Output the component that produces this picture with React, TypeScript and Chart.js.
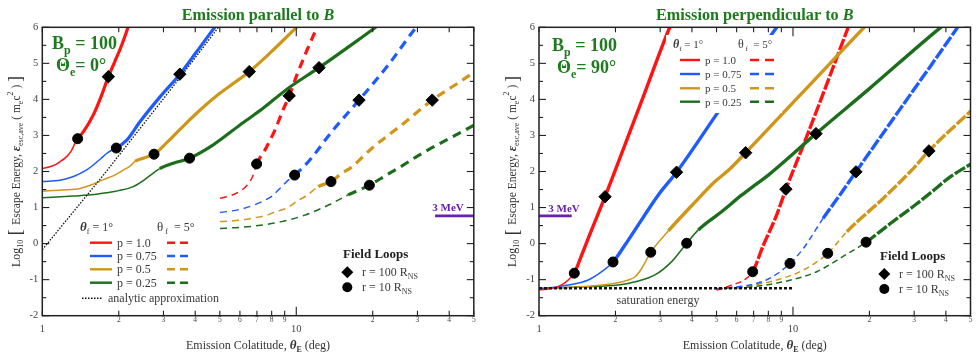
import React, { useEffect, useRef } from 'react';
import { Chart, registerables } from 'chart.js';

Chart.register(...registerables);

type P = [number, number];

// ---------- Left panel: emission parallel to B (Theta_e = 0 deg) ----------
const L_RED_1: P[] = [[1, 2.08], [1.1, 2.16], [1.174, 2.27], [1.25, 2.42], [1.3, 2.57], [1.345, 2.78], [1.378, 2.91], [1.45, 3.1], [1.588, 3.57], [1.713, 4.12], [1.82, 4.63], [1.93, 5.05], [2.055, 5.51], [2.18, 6.02], [2.2, 6.1]];
const L_BLUE_1: P[] = [[1, 1.72], [1.174, 1.76], [1.3, 1.84], [1.386, 1.92], [1.5, 2.05], [1.588, 2.18], [1.7, 2.36], [1.793, 2.5], [1.876, 2.59], [1.956, 2.65], [2.15, 2.87], [2.424, 3.38], [2.907, 4.07], [3.48, 4.7], [4.05, 5.32], [4.8, 6.02], [4.9, 6.1]];
const L_GOLD_1: P[] = [[1, 1.46], [1.2, 1.49], [1.407, 1.53], [1.588, 1.65], [1.75, 1.78], [1.93, 1.9], [2.1, 2.05], [2.215, 2.15], [2.317, 2.28], [2.498, 2.37], [2.754, 2.48], [3.09, 2.8], [3.5, 3.18], [4.0, 3.58], [4.86, 4.1], [5.7, 4.46], [6.53, 4.77], [8.0, 5.33], [10.1, 6.02], [10.4, 6.1]];
const L_GREEN_1: P[] = [[1, 1.27], [1.325, 1.32], [1.6, 1.36], [1.793, 1.41], [2.0, 1.47], [2.28, 1.58], [2.5, 1.75], [2.75, 1.97], [2.9, 2.08], [3.28, 2.23], [3.8, 2.37], [4.71, 2.74], [6.0, 3.29], [7.2, 3.69], [9.3, 4.31], [12.29, 4.88], [16, 5.45], [20.7, 6.02], [21.2, 6.08]];
const L_RED_5: P[] = [[5.01, 1.26], [5.5, 1.33], [6.0, 1.45], [6.4, 1.62], [6.75, 1.88], [6.98, 2.21], [7.53, 2.6], [8.24, 3.15], [8.86, 3.7], [9.38, 4.1], [10.06, 4.68], [11.0, 5.35], [12.1, 6.02], [12.3, 6.14]];
const L_BLUE_5: P[] = [[5.01, 0.86], [6.0, 0.95], [6.88, 1.08], [7.5, 1.2], [8.0, 1.31], [8.62, 1.53], [9.3, 1.76], [9.85, 1.9], [11.15, 2.27], [13.78, 3.1], [17.66, 3.98], [23.0, 4.95], [29.8, 6.02], [30.5, 6.1]];
const L_GOLD_5: P[] = [[5.01, 0.61], [6.0, 0.65], [6.88, 0.72], [7.67, 0.79], [8.24, 0.88], [9.15, 0.98], [10.18, 1.2], [11.0, 1.33], [12.2, 1.58], [13.7, 1.72], [15.09, 1.95], [16.5, 2.12], [19.8, 2.64], [26.0, 3.29], [34.3, 3.98], [42.2, 4.4], [50.5, 4.77]];
const L_GREEN_5: P[] = [[5.01, 0.42], [6.0, 0.45], [6.88, 0.49], [8.76, 0.61], [10.8, 0.79], [13.4, 1.07], [16.0, 1.35], [19.4, 1.62], [22.4, 1.88], [26.0, 2.15], [31.2, 2.5], [42.2, 3.0], [50.5, 3.3]];
const L_ANALYTIC: P[] = [[1, -0.17], [1.74, 1.9], [3.5, 4.62], [5.0, 6.05]];
const L_MEV: P[] = [[35.2, 0.769], [50, 0.769]];
const L_CIRCLES: P[] = [[1.378, 2.91], [1.956, 2.65], [2.754, 2.48], [3.8, 2.37], [6.98, 2.21], [9.85, 1.9], [13.7, 1.72], [19.4, 1.62]];
const L_DIAMONDS: P[] = [[1.82, 4.63], [3.48, 4.7], [6.53, 4.77], [12.29, 4.88], [9.38, 4.1], [17.66, 3.98], [34.3, 3.98]];

// ---------- Right panel: emission perpendicular to B (Theta_e = 90 deg) ----------
const R_RED_1: P[] = [[1, -1.28], [1.1, -1.25], [1.2, -1.18], [1.266, -1.08], [1.325, -0.96], [1.377, -0.82], [1.472, -0.32], [1.588, 0.27], [1.712, 0.84], [1.82, 1.3], [1.963, 1.9], [2.537, 3.96], [3.28, 6.02], [3.33, 6.12]];
const R_BLUE_1: P[] = [[1, -1.25], [1.15, -1.21], [1.304, -1.15], [1.563, -1.01], [1.766, -0.78], [1.956, -0.51], [2.18, -0.04], [2.46, 0.52], [2.95, 1.35], [3.48, 1.98], [4.96, 3.55], [8.12, 5.74], [8.9, 6.13]];
const R_GOLD_1: P[] = [[1, -1.25], [1.5, -1.19], [2.0, -1.1], [2.246, -1.01], [2.39, -0.92], [2.537, -0.69], [2.754, -0.24], [3.23, 0.35], [3.99, 1.05], [4.93, 1.72], [5.64, 2.07], [6.51, 2.52], [10, 3.91], [14, 5.0], [19.2, 6.02], [19.7, 6.1]];
const R_GREEN_1: P[] = [[1, -1.25], [1.5, -1.2], [2.05, -1.15], [2.39, -1.06], [2.86, -0.87], [3.33, -0.5], [3.815, 0.01], [4.24, 0.38], [5.25, 0.89], [6.29, 1.35], [7.1, 1.63], [8.0, 1.9], [12.32, 3.05], [20, 4.3], [38.5, 6.02], [39.5, 6.08]];
const R_RED_5: P[] = [[5.0, -1.29], [5.4, -1.22], [5.74, -1.15], [6.2, -1.07], [6.48, -0.99], [6.94, -0.78], [7.64, -0.05], [8.62, 0.79], [9.38, 1.51], [11.0, 2.74], [13, 4.07], [15.1, 5.28], [16.6, 6.05]];
const R_BLUE_5: P[] = [[5.0, -1.25], [6.0, -1.2], [6.77, -1.15], [8.12, -0.96], [9.73, -0.55], [11.0, -0.13], [13.14, 0.7], [15.3, 1.35], [17.7, 1.99], [26.4, 3.73], [35, 4.95], [44.7, 6.02], [45.5, 6.1]];
const R_GOLD_5: P[] = [[5.0, -1.25], [6.0, -1.21], [6.77, -1.17], [8.62, -1.01], [11.0, -0.73], [13.7, -0.27], [16.3, 0.33], [22.7, 1.26], [30.2, 2.13], [34.3, 2.57], [50.5, 3.7]];
const R_GREEN_5: P[] = [[5.0, -1.25], [6.77, -1.2], [9.16, -1.06], [12.4, -0.78], [15.8, -0.35], [19.4, 0.04], [24.1, 0.55], [30, 1.05], [34.7, 1.4], [41.6, 1.85], [50.5, 2.22]];
const R_SATURATION: P[] = [[1, -1.24], [10, -1.24]];
const R_MEV: P[] = [[1, 0.769], [1.345, 0.769]];
const R_CIRCLES: P[] = [[1.377, -0.82], [1.956, -0.51], [2.754, -0.24], [3.815, 0.01], [6.94, -0.78], [9.73, -0.55], [13.7, -0.27], [19.4, 0.04]];
const R_DIAMONDS: P[] = [[1.82, 1.3], [3.48, 1.98], [6.51, 2.52], [12.32, 3.05], [9.38, 1.51], [17.7, 1.99], [34.3, 2.57]];

// ---------- Axes ----------
const X_TICKS = [1, 2, 3, 4, 5, 6, 7, 8, 9, 10, 20, 30, 40, 50];
const X_TICK_LABELS = ['1', '2', '3', '4', '5', '6', '7', '8', '9', '10', '2', '3', '4', '5'];
const Y_TICKS = [-2, -1, 0, 1, 2, 3, 4, 5, 6];
const P_LABELS = ['p = 1.0', 'p = 0.75', 'p = 0.5', 'p = 0.25'];

const SERIF = '"Liberation Serif", "DejaVu Serif", serif';
const fnt = (px: number, st = '') => `${st} ${px}px ${SERIF}`.trim();

const RED = '#ff1414';
const BLUE = '#1e5cff';
const GOLD = '#d0961a';
const GREEN = '#1c6e1c';
const COLORS = [RED, BLUE, GOLD, GREEN];
const TITLE_GREEN = '#1d7a1d';
const PURPLE = '#6a1fb0';
const TEXT = '#3a3a3a';

type Run = { t: string; f: string; dy?: number };

function drawRuns(ctx: CanvasRenderingContext2D, runs: Run[], x: number, y: number, align: 'left' | 'center' = 'left') {
  let w = 0;
  runs.forEach((r) => { ctx.font = r.f; w += ctx.measureText(r.t).width; });
  let cx = align === 'center' ? x - w / 2 : x;
  ctx.textAlign = 'left';
  ctx.textBaseline = 'alphabetic';
  runs.forEach((r) => {
    ctx.font = r.f;
    ctx.fillText(r.t, cx, y + (r.dy || 0));
    cx += ctx.measureText(r.t).width;
  });
}

interface Panel {
  pad: { left: number; right: number; top: number; bottom: number };
  solid: P[][];
  solidThick: number[];
  dashed: P[][];
  dashedThick: number[];
  thickW: number;
  thickDash: number[];
  thinDash: number[];
  analytic?: P[];
  saturation?: P[];
  mev: P[];
  circles: P[];
  diamonds: P[];
  title: string;
  thetaE: string;
  bx: number; by: number; tx: number; ty: number;
  legend: { fs: number; h1x: number; h2x: number; hy: number; rows: number[]; s1: number; s2: number; tx: number; d1: number; d2: number; dash: number[]; box?: number[]; analyticY?: number };
  loops: { x: number; y: number };
  mevLabel: { x: number; y: number };
  ylabelX: number;
}

const LEFT: Panel = {
  pad: { left: 42.3, right: 16.2, top: 27.3, bottom: 40.3 },
  solid: [L_RED_1, L_BLUE_1, L_GOLD_1, L_GREEN_1],
  solidThick: [1.378, 1.876, 2.317, 2.9],
  dashed: [L_RED_5, L_BLUE_5, L_GOLD_5, L_GREEN_5],
  dashedThick: [6.98, 9.85, 12.2, 16.0],
  thickW: 3.2,
  thickDash: [9, 6],
  thinDash: [7, 5],
  analytic: L_ANALYTIC,
  mev: L_MEV,
  circles: L_CIRCLES,
  diamonds: L_DIAMONDS,
  title: 'Emission parallel to ',
  thetaE: '= 0°',
  bx: 52, by: 49, tx: 56, ty: 71,
  legend: { fs: 12, h1x: 80, h2x: 157, hy: 227, rows: [242.7, 256, 269.3, 282.7], s1: 90, s2: 112, tx: 117, d1: 167, d2: 188, dash: [8, 5], analyticY: 298.3 },
  loops: { x: 343, y: 254 },
  mevLabel: { x: 448, y: 207 },
  ylabelX: 15,
};

const RIGHT: Panel = {
  pad: { left: 49, right: 9.5, top: 27.3, bottom: 40.3 },
  solid: [R_RED_1, R_BLUE_1, R_GOLD_1, R_GREEN_1],
  solidThick: [1.377, 1.956, 3.23, 4.24],
  dashed: [R_RED_5, R_BLUE_5, R_GOLD_5, R_GREEN_5],
  dashedThick: [6.94, 13.14, 16.3, 19.4],
  thickW: 3.4,
  thickDash: [12, 2],
  thinDash: [6, 4],
  saturation: R_SATURATION,
  mev: R_MEV,
  circles: R_CIRCLES,
  diamonds: R_DIAMONDS,
  title: 'Emission perpendicular to ',
  thetaE: '= 90°',
  bx: 62, by: 51, tx: 67, ty: 73,
  legend: { fs: 11, h1x: 183, h2x: 248, hy: 44, rows: [60, 74, 88.3, 101.7], s1: 190, s2: 210, tx: 215, d1: 260, d2: 285, dash: [9, 6], box: [176, 35, 292, 113] },
  loops: { x: 390, y: 255.7 },
  mevLabel: { x: 74, y: 207.7 },
  ylabelX: 21.7,
};

const toXY = (pts: P[]) => pts.map(([x, y]) => ({ x, y }));

function curveDataset(pts: P[], color: string, dashed: boolean, thickFrom: number, cfg: Panel) {
  const thinW = 1.5;
  const isThick = (c: any) => c.p0.parsed.x >= thickFrom - 1e-9;
  return {
    data: toXY(pts),
    borderColor: color,
    backgroundColor: color,
    borderWidth: thinW,
    borderDash: dashed ? cfg.thinDash : [],
    pointRadius: 0,
    pointHoverRadius: 0,
    cubicInterpolationMode: 'monotone',
    fill: false,
    clip: 0,
    order: 2,
    segment: {
      borderWidth: (c: any) => (isThick(c) ? cfg.thickW : thinW),
      borderDash: (c: any) => (dashed ? (isThick(c) ? cfg.thickDash : cfg.thinDash) : []),
    },
  };
}

function decor(cfg: Panel) {
  return {
    id: 'decor',
    afterDatasetsDraw(chart: any) {
      const ctx: CanvasRenderingContext2D = chart.ctx;
      const a = chart.chartArea;
      const xs = chart.scales.x;
      const ys = chart.scales.y;
      const seg = (x1: number, y1: number, x2: number, y2: number) => {
        ctx.beginPath(); ctx.moveTo(x1, y1); ctx.lineTo(x2, y2); ctx.stroke();
      };
      ctx.save();
      const L = cfg.legend;
      if (L.box) {
        ctx.fillStyle = '#ffffff';
        ctx.fillRect(L.box[0], L.box[1], L.box[2] - L.box[0], L.box[3] - L.box[1]);
      }
      ctx.fillStyle = TEXT;
      drawRuns(ctx, [{ t: 'θ', f: fnt(L.fs + 1, 'italic bold') }, { t: 'f', f: fnt(L.fs - 4), dy: 3 }, { t: ' = 1°', f: fnt(L.fs) }], L.h1x, L.hy + 4);
      drawRuns(ctx, [{ t: 'θ', f: fnt(L.fs + 1) }, { t: ' f', f: fnt(L.fs - 4), dy: 3 }, { t: '  = 5°', f: fnt(L.fs) }], L.h2x, L.hy + 4);
      L.rows.forEach((ry, i) => {
        ctx.strokeStyle = COLORS[i];
        ctx.lineWidth = 2.4;
        ctx.setLineDash([]);
        seg(L.s1, ry, L.s2, ry);
        ctx.setLineDash(L.dash);
        seg(L.d1, ry, L.d2, ry);
        ctx.setLineDash([]);
        ctx.fillStyle = TEXT;
        drawRuns(ctx, [{ t: P_LABELS[i], f: fnt(L.fs) }], L.tx, ry + 4);
      });
      if (L.analyticY) {
        ctx.strokeStyle = '#111';
        ctx.lineWidth = 1.5;
        ctx.setLineDash([1.5, 1.5]);
        seg(82, L.analyticY, 103, L.analyticY);
        ctx.setLineDash([]);
        drawRuns(ctx, [{ t: 'analytic approximation', f: fnt(12) }], 108, L.analyticY + 4);
      }

      // Field loops legend
      const FL = cfg.loops;
      ctx.fillStyle = '#222';
      drawRuns(ctx, [{ t: 'Field Loops', f: fnt(13, 'bold') }], FL.x, FL.y + 4);
      ctx.fillStyle = '#000';
      const dx = FL.x + 4.3, dy = FL.y + 18.3;
      ctx.beginPath(); ctx.moveTo(dx, dy - 6); ctx.lineTo(dx + 6, dy); ctx.lineTo(dx, dy + 6); ctx.lineTo(dx - 6, dy); ctx.closePath(); ctx.fill();
      ctx.beginPath(); ctx.arc(dx, dy + 15, 5, 0, Math.PI * 2); ctx.fill();
      ctx.fillStyle = TEXT;
      drawRuns(ctx, [{ t: 'r = 100 R', f: fnt(12) }, { t: 'NS', f: fnt(8), dy: 3 }], FL.x + 19, dy + 4);
      drawRuns(ctx, [{ t: 'r = 10 R', f: fnt(12) }, { t: 'NS', f: fnt(8), dy: 3 }], FL.x + 19, dy + 19);

      // 3 MeV label
      ctx.fillStyle = PURPLE;
      drawRuns(ctx, [{ t: '3 MeV', f: fnt(11, 'bold') }], cfg.mevLabel.x, cfg.mevLabel.y + 4, 'center');

      if (cfg.saturation) {
        ctx.fillStyle = TEXT;
        drawRuns(ctx, [{ t: 'saturation energy', f: fnt(12) }], 168, 304, 'center');
      }

      // B_p and Theta_e
      ctx.fillStyle = TITLE_GREEN;
      drawRuns(ctx, [{ t: 'B', f: fnt(18, 'bold') }, { t: 'p', f: fnt(12, 'bold'), dy: 5 }, { t: ' = 100', f: fnt(18, 'bold') }], cfg.bx, cfg.by);
      drawRuns(ctx, [{ t: 'Θ', f: fnt(18, 'bold') }, { t: 'e', f: fnt(12, 'bold'), dy: 5 }, { t: cfg.thetaE, f: fnt(18, 'bold') }], cfg.tx, cfg.ty);

      // Title
      const cx = (a.left + a.right) / 2;
      drawRuns(ctx, [{ t: cfg.title, f: fnt(16.2, 'bold') }, { t: 'B', f: fnt(16.2, 'italic bold') }], cx, 20, 'center');

      // Frame
      ctx.strokeStyle = '#222';
      ctx.lineWidth = 1.5;
      ctx.strokeRect(a.left, a.top, a.right - a.left, a.bottom - a.top);

      // Ticks
      ctx.lineWidth = 1.1;
      for (let v = -2; v <= 6; v += 0.5) {
        const y = ys.getPixelForValue(v);
        const len = Number.isInteger(v) ? 7 : 4;
        seg(a.left, y, a.left + len, y);
        seg(a.right, y, a.right - len, y);
      }
      X_TICKS.forEach((v) => {
        const x = xs.getPixelForValue(v);
        const len = v === 10 ? 9 : 5;
        seg(x, a.bottom, x, a.bottom - len);
        seg(x, a.top, x, a.top + len);
      });

      // Tick labels
      ctx.fillStyle = '#444';
      ctx.textBaseline = 'middle';
      ctx.textAlign = 'right';
      ctx.font = fnt(10.5);
      Y_TICKS.forEach((v) => ctx.fillText(String(v), a.left - 4, ys.getPixelForValue(v)));
      ctx.textAlign = 'center';
      X_TICKS.forEach((v, i) => {
        const x = xs.getPixelForValue(v);
        const major = v === 1 || v === 10;
        ctx.font = major ? fnt(10.5) : fnt(7.5);
        ctx.fillText(X_TICK_LABELS[i], x, major ? a.bottom + 13.5 : a.bottom + 4.8);
      });

      // Axis labels
      ctx.fillStyle = '#333';
      drawRuns(ctx, [
        { t: 'Emission Colatitude, ', f: fnt(12) },
        { t: 'θ', f: fnt(13, 'italic bold') },
        { t: 'E', f: fnt(8, 'bold'), dy: 3 },
        { t: ' (deg)', f: fnt(12) },
      ], cx, 349, 'center');

      ctx.save();
      ctx.translate(cfg.ylabelX, (a.top + a.bottom) / 2);
      ctx.rotate(-Math.PI / 2);
      drawRuns(ctx, [
        { t: 'Log', f: fnt(12) },
        { t: '10', f: fnt(8), dy: 3 },
        { t: ' [ ', f: fnt(18), dy: 1.5 },
        { t: 'Escape Energy, ', f: fnt(11.5) },
        { t: 'ε', f: fnt(13, 'italic bold') },
        { t: 'esc,ave', f: fnt(8), dy: 3 },
        { t: ' ( m', f: fnt(11.5) },
        { t: 'e', f: fnt(8), dy: 3 },
        { t: 'c', f: fnt(11.5) },
        { t: '2', f: fnt(8), dy: -7 },
        { t: ' ) ', f: fnt(11.5) },
        { t: ']', f: fnt(18), dy: 1.5 },
      ], 0, 4.5, 'center');
      ctx.restore();

      ctx.restore();
    },
  };
}

function makeChart(canvas: HTMLCanvasElement, cfg: Panel) {
  const datasets: any[] = [];
  datasets.push({
    data: toXY(cfg.diamonds), showLine: false, pointStyle: 'rectRot', pointRadius: 6.2,
    pointBackgroundColor: '#000', pointBorderColor: '#000', pointBorderWidth: 1, order: 0, clip: false,
  });
  datasets.push({
    data: toXY(cfg.circles), showLine: false, pointStyle: 'circle', pointRadius: 5,
    pointBackgroundColor: '#000', pointBorderColor: '#000', pointBorderWidth: 1, order: 0, clip: false,
  });
  cfg.solid.forEach((pts, i) => datasets.push(curveDataset(pts, COLORS[i], false, cfg.solidThick[i], cfg)));
  cfg.dashed.forEach((pts, i) => datasets.push(curveDataset(pts, COLORS[i], true, cfg.dashedThick[i], cfg)));
  if (cfg.analytic) {
    datasets.push({ data: toXY(cfg.analytic), borderColor: '#111', borderWidth: 1.3, borderDash: [1.5, 1.5], pointRadius: 0, tension: 0, clip: 0, order: 1 });
  }
  if (cfg.saturation) {
    datasets.push({ data: toXY(cfg.saturation), borderColor: '#111', borderWidth: 2.6, borderDash: [3, 2], pointRadius: 0, tension: 0, clip: 0, order: 1 });
  }
  datasets.push({ data: toXY(cfg.mev), borderColor: PURPLE, borderWidth: 2.6, pointRadius: 0, tension: 0, clip: 0, order: 1 });

  return new Chart(canvas, {
    type: 'line',
    data: { datasets },
    options: {
      animation: false,
      responsive: false,
      events: [],
      layout: { padding: cfg.pad },
      plugins: { legend: { display: false }, tooltip: { enabled: false }, title: { display: false } },
      scales: {
        x: { type: 'logarithmic', min: 1, max: 50, display: false },
        y: { type: 'linear', min: -2, max: 6, display: false },
      },
    } as any,
    plugins: [decor(cfg)],
  });
}

export default function App() {
  const r1 = useRef<HTMLCanvasElement>(null);
  const r2 = useRef<HTMLCanvasElement>(null);
  useEffect(() => {
    document.body.style.margin = '0';
    const c1 = makeChart(r1.current!, LEFT);
    const c2 = makeChart(r2.current!, RIGHT);
    return () => { c1.destroy(); c2.destroy(); };
  }, []);
  return (
    <div style={{ display: 'flex', width: 980, height: 356, background: '#fff' }}>
      <canvas ref={r1} width={490} height={356} style={{ display: 'block', width: 490, height: 356 }} />
      <canvas ref={r2} width={490} height={356} style={{ display: 'block', width: 490, height: 356 }} />
    </div>
  );
}
